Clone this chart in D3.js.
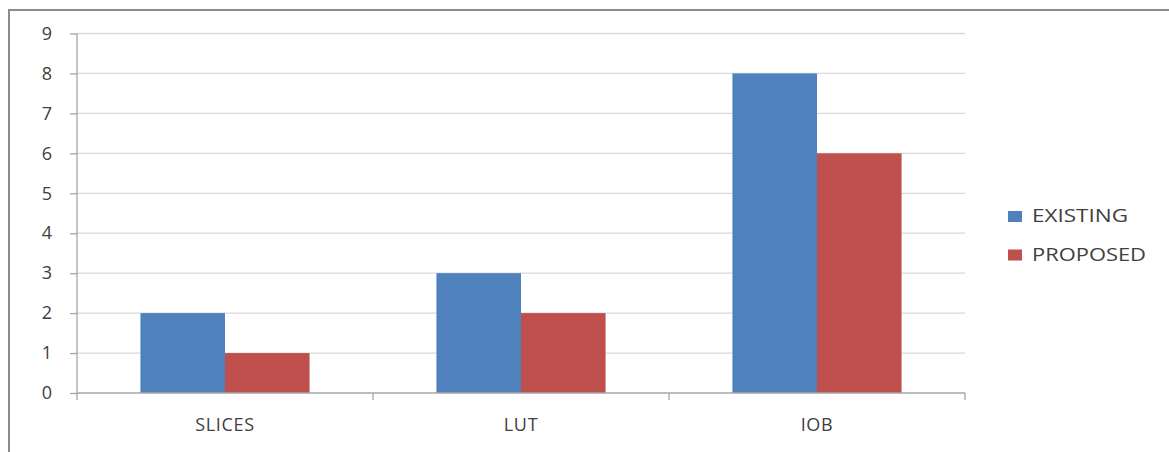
<!DOCTYPE html>
<html><head><meta charset="utf-8">
<script src="https://cdn.jsdelivr.net/npm/d3@7"></script>
<style>body{margin:0;background:#fff;}svg{display:block;font-family:"Open Sans","DejaVu Sans",sans-serif;}</style>
</head><body><svg id="c" width="1169" height="452"></svg>
<script>
const categories = ["SLICES", "LUT", "IOB"];
const seriesNames = ["EXISTING", "PROPOSED"];
const existing = [2, 3, 8];
const proposed = [1, 2, 6];
const yTicks = [0,1,2,3,4,5,6,7,8,9];
const colors = ["#4F81BD", "#C0504D"];

const svg = d3.select("#c");
// outer border
svg.append("rect").attr("x",9).attr("y",10).attr("width",1200).attr("height",500)
  .attr("fill","none").attr("stroke","#8c8c8c").attr("stroke-width",2);

const x0 = 77, x1 = 965, yTop = 33.5, yBot = 393;
const x = d3.scaleBand().domain(categories).range([x0, x1]).paddingInner(0).paddingOuter(0);
const y = d3.scaleLinear().domain([0, 9]).range([yBot, yTop]);
const groupFrac = 1/1.75;
const xs = d3.scaleBand().domain(seriesNames).range([0, x.bandwidth()*groupFrac]);

// gridlines
svg.append("g").selectAll("line").data(yTicks.filter(d=>d>0)).join("line")
  .attr("x1",x0).attr("x2",x1).attr("y1",d=>y(d)).attr("y2",d=>y(d))
  .attr("stroke","#d9d9d9").attr("stroke-width",1.3);

// bars
const data = categories.map((c,i)=>({c, vals:[existing[i], proposed[i]]}));
const off = (x.bandwidth() - x.bandwidth()*groupFrac)/2;
svg.append("g").selectAll("g").data(data).join("g")
  .attr("transform", d=>`translate(${x(d.c)+off},0)`)
  .selectAll("rect").data(d=>d.vals.map((v,j)=>({v, s:seriesNames[j], j})))
  .join("rect")
  .attr("x", d=>xs(d.s)).attr("width", xs.bandwidth())
  .attr("y", d=>y(d.v)).attr("height", d=>y(0)-y(d.v))
  .attr("fill", d=>colors[d.j]);

// y axis
const yAxis = d3.axisLeft(y).tickValues(yTicks).tickSize(7).tickPadding(18).tickFormat(d3.format("d"));
const gy = svg.append("g").attr("transform",`translate(${x0},0)`).call(yAxis);
gy.attr("font-family", null).attr("font-size", null);
gy.select(".domain").attr("stroke","#a6a6a6").attr("stroke-width",1.3).attr("d",`M0,${yTop}V${yBot+7}`);
gy.selectAll(".tick line").attr("stroke","#a6a6a6").attr("stroke-width",1.3);
gy.selectAll(".tick text").attr("fill","#404040").attr("font-size",18).attr("font-weight",500);

// x axis
const xAxis = d3.axisBottom(x).tickSize(0).tickPadding(25);
const gx = svg.append("g").attr("transform",`translate(0,${yBot})`).call(xAxis);
gx.attr("font-family", null).attr("font-size", null);
gx.select(".domain").attr("stroke","#a6a6a6").attr("stroke-width",1.3).attr("d",`M${x0},0H${x1}`);
gx.selectAll(".tick text").attr("fill","#404040").attr("font-size",18).attr("letter-spacing",0.7).attr("font-weight",500);
// category boundary ticks
const bounds = categories.map(c=>x(c)).slice(1).concat([x1]);
gx.append("g").selectAll("line").data(bounds).join("line")
  .attr("x1",d=>d).attr("x2",d=>d).attr("y1",0).attr("y2",7)
  .attr("stroke","#a6a6a6").attr("stroke-width",1.3);

// legend
const legendWidths = [96, 114];
const lg = svg.append("g").selectAll("g").data(seriesNames).join("g")
  .attr("transform",(d,i)=>`translate(1008,${211+i*38.5})`);
lg.append("rect").attr("width",14).attr("height",11).attr("fill",(d,i)=>colors[i]);
lg.append("text").attr("x",24).attr("y",11).attr("font-size",18).attr("font-weight",500).attr("fill","#404040")
  .attr("textLength",(d,i)=>legendWidths[i]).attr("lengthAdjust","spacingAndGlyphs").text(d=>d);
</script>
</body></html>
